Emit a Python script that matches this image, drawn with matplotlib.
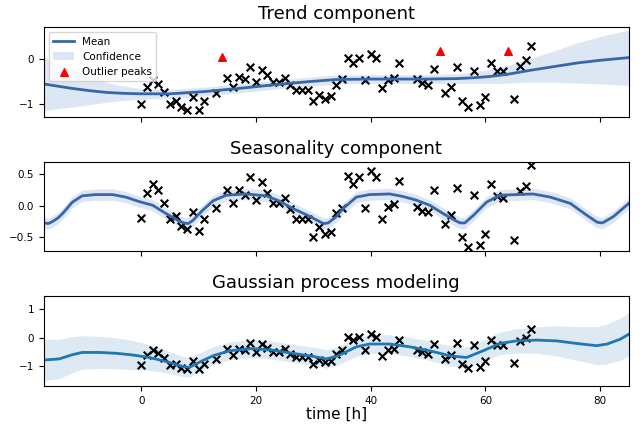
import matplotlib
matplotlib.use("Agg")
import matplotlib.pyplot as plt
import numpy as np

# observed points (time in hours)
obs_t = [0, 1, 2, 3, 4, 5, 6, 7, 8, 9, 10, 11, 13, 15, 16, 17, 18, 19, 20, 21,
         22, 23, 24, 25, 26, 27, 28, 29, 30, 31, 32, 33, 34, 35, 36, 37, 38, 39,
         40, 41, 42, 43, 44, 45, 48, 49, 50, 51, 53, 54, 55, 56, 57, 58, 59, 60,
         61, 62, 63, 65, 66, 67, 68]
obs_y = [-0.99, -0.61, -0.46, -0.56, -0.74, -0.99, -0.94, -1.07, -1.13, -0.84,
         -1.13, -0.94, -0.76, -0.41, -0.61, -0.40, -0.44, -0.18, -0.50, -0.24,
         -0.36, -0.50, -0.50, -0.41, -0.57, -0.68, -0.68, -0.68, -0.94, -0.79,
         -0.88, -0.83, -0.57, -0.44, 0.02, -0.08, 0.02, -0.46, 0.13, 0.02,
         -0.64, -0.46, -0.41, -0.07, -0.44, -0.53, -0.57, -0.22, -0.76, -0.61,
         -0.18, -0.94, -1.07, -0.25, -1.03, -0.84, -0.08, -0.26, -0.26, -0.89,
         -0.14, -0.02, 0.30]
# detrended points shown in the seasonality panel
seas_y = [-0.19, 0.20, 0.35, 0.25, 0.04, -0.21, -0.16, -0.32, -0.37, -0.09,
          -0.40, -0.21, -0.04, 0.26, 0.05, 0.25, 0.17, 0.46, 0.09, 0.38,
          0.21, 0.04, 0.04, 0.12, -0.05, -0.21, -0.21, -0.21, -0.49, -0.34,
          -0.45, -0.41, -0.12, -0.03, 0.47, 0.35, 0.46, -0.03, 0.56, 0.46,
          -0.21, -0.02, 0.03, 0.39, -0.01, -0.08, -0.10, 0.26, -0.29, -0.15,
          0.29, -0.50, -0.65, 0.18, -0.62, -0.44, 0.35, 0.16, 0.12, -0.54,
          0.24, 0.32, 0.65]

peak_t = [14, 52, 64]
peak_y = [0.06, 0.19, 0.19]

# trend component
trend_t = [-17, -14.5, -12, -9, -6, -3, 0, 5, 11, 17, 23, 29, 34, 40, 45, 50,
           55, 58, 61, 64, 68, 72, 76, 80, 85]
trend_mean = [-0.55, -0.60, -0.65, -0.70, -0.74, -0.76, -0.77, -0.77, -0.72,
              -0.65, -0.57, -0.50, -0.45, -0.44, -0.44, -0.44, -0.43, -0.41,
              -0.38, -0.33, -0.24, -0.16, -0.08, -0.02, 0.04]
trend_sd = [0.60, 0.50, 0.42, 0.31, 0.22, 0.16, 0.12, 0.10, 0.10, 0.10, 0.10,
            0.10, 0.10, 0.10, 0.10, 0.10, 0.11, 0.13, 0.16, 0.20, 0.27, 0.35,
            0.45, 0.53, 0.62]

# seasonality component
seas_t = [-17, -16.2, -15.5, -14.5, -13.7, -12, -10.3, -8, -5, -2.7, -0.4, 2,
          4.3, 6.6, 7.4, 8.2, 9, 10.7, 12.5, 14.8, 18.3, 21.8, 24, 26.4, 28.8,
          31.1, 31.8, 32.6, 34, 35.2, 37.5, 39.8, 43.3, 45.6, 48, 50.3, 52.6,
          54.9, 55.6, 56.4, 57.9, 60.2, 62.5, 65.4, 68.3, 71.3, 74.8, 77.7,
          79.5, 80.4, 82.3, 85]
seas_mean = [-0.27, -0.28, -0.25, -0.19, -0.12, 0.06, 0.16, 0.18, 0.18, 0.14,
             0.07, 0.01, -0.12, -0.24, -0.27, -0.28, -0.23, -0.07, 0.08, 0.17,
             0.19, 0.16, 0.08, -0.04, -0.14, -0.25, -0.28, -0.27, -0.17, -0.04,
             0.14, 0.18, 0.19, 0.15, 0.09, 0.01, -0.12, -0.24, -0.27, -0.27,
             -0.15, 0.06, 0.17, 0.18, 0.19, 0.14, 0.04, -0.15, -0.26, -0.27,
             -0.17, 0.04]
seas_sd = 0.09

# full GP fit
gp_t = [-17, -14.3, -12, -10.3, -7.3, -4.4, -1.5, 1.4, 4.3, 7.2, 8.4, 10.1,
        12.5, 15.4, 19.4, 22.9, 26.4, 29.9, 32.3, 34.3, 35.2, 37.5, 39.8, 43.3,
        46.8, 50.3, 53.8, 56.7, 59.6, 62.5, 65.4, 68.9, 72.4, 75.9, 79.4, 81.2,
        83.5, 85]
gp_mean = [-0.80, -0.76, -0.61, -0.53, -0.53, -0.56, -0.62, -0.71, -0.85,
           -1.03, -1.06, -0.88, -0.65, -0.47, -0.39, -0.45, -0.56, -0.67,
           -0.76, -0.65, -0.56, -0.33, -0.23, -0.23, -0.33, -0.47, -0.65,
           -0.71, -0.47, -0.21, -0.12, -0.09, -0.12, -0.21, -0.29, -0.23,
           -0.06, 0.12]
gp_sd = [0.74, 0.70, 0.64, 0.60, 0.57, 0.55, 0.52, 0.46, 0.40, 0.36, 0.35,
         0.33, 0.32, 0.32, 0.32, 0.32, 0.32, 0.33, 0.33, 0.33, 0.33, 0.33,
         0.33, 0.33, 0.34, 0.35, 0.36, 0.37, 0.38, 0.40, 0.43, 0.47, 0.54,
         0.60, 0.68, 0.71, 0.75, 0.77]

mean_col = "#3767a8"
band_col = "#7a9fd0"

fig, axes = plt.subplots(3, 1, figsize=(6.43, 4.25), dpi=100, sharex=True)
fig.subplots_adjust(left=0.068, right=0.978, top=0.936, bottom=0.092, hspace=0.506)

# trend
ax = axes[0]
tm = np.array(trend_mean)
ts = np.array(trend_sd)
ax.plot(trend_t, tm, color=mean_col, lw=2, label="Mean")
ax.fill_between(trend_t, tm - ts, tm + ts, color=band_col, alpha=0.25, lw=0,
                label="Confidence")
ax.scatter(obs_t, obs_y, marker="x", color="k", s=30, lw=1.5)
ax.scatter(peak_t, peak_y, marker="^", color="red", s=30, label="Outlier peaks")
ax.set_ylim(-1.28, 0.72)
ax.set_yticks([-1, 0])
ax.set_title("Trend component", fontsize=13)
ax.legend(loc="upper left", fontsize=7.5)

# seasonality
ax = axes[1]
sm = np.array(seas_mean)
ax.plot(seas_t, sm, color=mean_col, lw=2)
ax.fill_between(seas_t, sm - seas_sd, sm + seas_sd, color=band_col, alpha=0.25, lw=0)
ax.scatter(obs_t, seas_y, marker="x", color="k", s=30, lw=1.5)
ax.set_ylim(-0.72, 0.70)
ax.set_yticks([-0.5, 0.0, 0.5])
ax.set_title("Seasonality component", fontsize=13)

# GP
ax = axes[2]
gm = np.array(gp_mean)
gs = np.array(gp_sd)
ax.plot(gp_t, gm, color="C0", lw=2)
ax.fill_between(gp_t, gm - gs, gm + gs, color="C0", alpha=0.15, lw=0)
ax.scatter(obs_t, obs_y, marker="x", color="k", s=30, lw=1.5)
ax.set_ylim(-1.72, 1.46)
ax.set_yticks([-1, 0, 1])
ax.set_title("Gaussian process modeling", fontsize=13)
ax.set_xlabel("time [h]", fontsize=11, labelpad=1)
ax.set_xlim(-17, 85)
ax.set_xticks([0, 20, 40, 60, 80])

for ax in axes:
    ax.tick_params(labelsize=7.5)

fig.savefig("out.png", dpi=100)
